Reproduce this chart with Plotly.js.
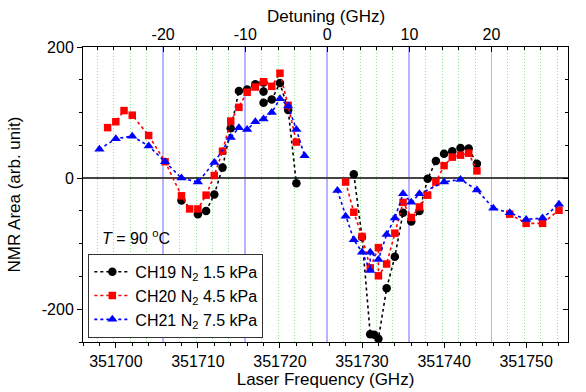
<!DOCTYPE html>
<html>
<head>
<meta charset="utf-8">
<script src="https://cdn.plot.ly/plotly-3.0.1.min.js"></script>
<style>html,body{margin:0;padding:0;background:#fff}#chart{width:586px;height:392px}</style>
</head>
<body>
<div id="chart"></div>
<script>
// Laser frequency (GHz) and NMR area (arb. unit); null = gap in the dotted line
var ch19Freq = [351708,351710,351711,351712,351713,351714,351715,351716,351717,351718,351718,351718,351719,351720,351721,351722,null,
                351729,351730,351731,351731.5,351732,351733,351734,351735,351736,351737,351738,351739,351740,351741,351742,351743,351744];
var ch19Area = [-34,-55,-50,-25,16,76,133,135,143,146,132,115,120,145,104,-8,null,
                6,-90,-238,-239,-245,-168,-120,-53,-66,-50,-1,26,37,41,46,45,22];

var ch20Freq = [351699,351700,351701,351702,351704,351706,351708,351709,351710,351711,351712,351713,351714,351715,351716,351717,351718,351719,351720,351721,351722,null,
                351728,351729,351730,351731,351732,351732,351733,351734,351735,351736,351737,351738,351739,351740,351741,351742,351743,351744,null,
                351748,351750,351752,351754];
var ch20Area = [77,86,103,96,65,25,-27,-47,-47,-26,4,41,87,108,131,139,147,140,160,111,55,null,
                -6,-52,-89,-137,-106,-149,-131,-84,-37,-60,-44,-26,-6,19,32,35,38,11,null,
                -55,-69,-69,-49];

var ch21Freq = [351698,351700,351702,351704,351706,351708,351710,351712,351714,351715,351716,351717,351718,351719,351720,351721,351722,351723,null,
                351727,351728,351729,351730,351731,351731,351732,351733,351734,351735,351736,351737,351740,351742,351744,351746,351748,351750,351752,351754];
var ch21Area = [44,60,64,49,25,0,-6,24,62,77,74,86,90,100,121,110,74,34,null,
                -19,-58,-94,-113,-141,-113,-124,-86,-61,-24,-37,-24,-6,-2,-18,-46,-53,-63,-61,-40];

var seriesNames = ["CH19 N<sub>2</sub> 1.5 kPa", "CH20 N<sub>2</sub> 4.5 kPa", "CH21 N<sub>2</sub> 7.5 kPa"];

var freqTicks = [351700,351710,351720,351730,351740,351750];
var detuneTicks = [-20,-10,0,10,20];
var detuneLabels = ["-20","-10","0","10","20"];
var areaTicks = [-200,0,200];
var areaLabels = ["-200","0","200"];

var freqRange = [351696, 351755.1];
var detuneZero = 351725.77;

var FONT = "'Liberation Sans', Arial, sans-serif";

function series(x, y, name, color, symbol, size) {
  return {x: x, y: y, name: name, type: 'scatter', mode: 'lines+markers',
          connectgaps: false,
          line: {color: color, dash: 'dot', width: 1.6},
          marker: {color: color, symbol: symbol, size: size}};
}

var data = [
  series(ch19Freq, ch19Area, seriesNames[0], '#000000', 'circle', 8.5),
  series(ch20Freq, ch20Area, seriesNames[1], '#ff0000', 'square', 7.5),
  series(ch21Freq, ch21Area, seriesNames[2], '#0000ff', 'triangle-up', 9),
  {x: [], y: [], xaxis: 'x2', yaxis: 'y', showlegend: false, hoverinfo: 'skip', type: 'scatter'},
  {x: [], y: [], xaxis: 'x', yaxis: 'y2', showlegend: false, hoverinfo: 'skip', type: 'scatter'}
];

var layout = {
  width: 586, height: 392,
  margin: {l: 83, r: 18, t: 47, b: 50},
  paper_bgcolor: '#fff', plot_bgcolor: '#fff',
  font: {family: FONT, size: 16, color: '#000'},
  showlegend: true,
  legend: {x: 0.011, y: 0.014, xanchor: 'left', yanchor: 'bottom',
           bgcolor: '#fff', bordercolor: '#333', borderwidth: 1,
           font: {family: FONT, size: 16, color: '#000'}, itemwidth: 36},
  xaxis: {range: freqRange, tickvals: freqTicks, ticktext: freqTicks.map(String),
          ticks: 'outside', ticklen: 5, tickwidth: 1, tickcolor: '#000',
          minor: {dtick: 2, tick0: 351700, ticks: 'outside', ticklen: 3, tickcolor: '#000'},
          showline: true, linecolor: '#000', linewidth: 1, showgrid: false, zeroline: false,
          title: {text: 'Laser Frequency (GHz)', font: {family: FONT, size: 17}, standoff: 2},
          tickfont: {family: FONT, size: 16}},
  xaxis2: {overlaying: 'x', side: 'top', anchor: 'y',
           range: [freqRange[0] - detuneZero, freqRange[1] - detuneZero],
           tickvals: detuneTicks, ticktext: detuneLabels,
           ticks: 'inside', ticklen: 5, tickcolor: '#000',
           showgrid: true, gridcolor: '#b4b4ff', gridwidth: 1.8,
           minor: {dtick: 2, tick0: 0, ticks: 'inside', ticklen: 3, tickcolor: '#000',
                   showgrid: true, gridcolor: '#8ee88e', griddash: '1px,2px', gridwidth: 1},
           showline: true, linecolor: '#000', linewidth: 1, zeroline: false,
           tickfont: {family: FONT, size: 16}},
  yaxis: {range: [-250, 200], tickvals: areaTicks, ticktext: areaLabels,
          ticks: 'outside', ticklen: 5, tickcolor: '#000',
          minor: {dtick: 50, tick0: 0, ticks: 'outside', ticklen: 3, tickcolor: '#000'},
          showline: true, linecolor: '#000', linewidth: 1, showgrid: false,
          zeroline: true, zerolinecolor: '#444', zerolinewidth: 1.5,
          title: {text: 'NMR Area (arb. unit)', font: {family: FONT, size: 17}, standoff: 16},
          tickfont: {family: FONT, size: 16}},
  yaxis2: {overlaying: 'y', side: 'right', anchor: 'x', range: [-250, 200],
           tickvals: areaTicks, showticklabels: false,
           ticks: 'inside', ticklen: 5, tickcolor: '#000',
           minor: {dtick: 50, tick0: 0, ticks: 'inside', ticklen: 3, tickcolor: '#000'},
           showline: true, linecolor: '#000', linewidth: 1, showgrid: false, zeroline: false},
  annotations: [
    {xref: 'paper', yref: 'paper', x: 0.5, y: 1.103, xanchor: 'center', yanchor: 'middle',
     showarrow: false, text: 'Detuning (GHz)', font: {family: FONT, size: 17, color: '#000'}},
    {xref: 'paper', yref: 'paper', x: 0.036, y: 0.356, xanchor: 'left', yanchor: 'middle',
     showarrow: false, text: '<i>T</i> = 90 <sup>o</sup>C', font: {family: FONT, size: 16, color: '#000'}}
  ]
};

Plotly.newPlot('chart', data, layout, {staticPlot: true, displayModeBar: false});
</script>
</body>
</html>
